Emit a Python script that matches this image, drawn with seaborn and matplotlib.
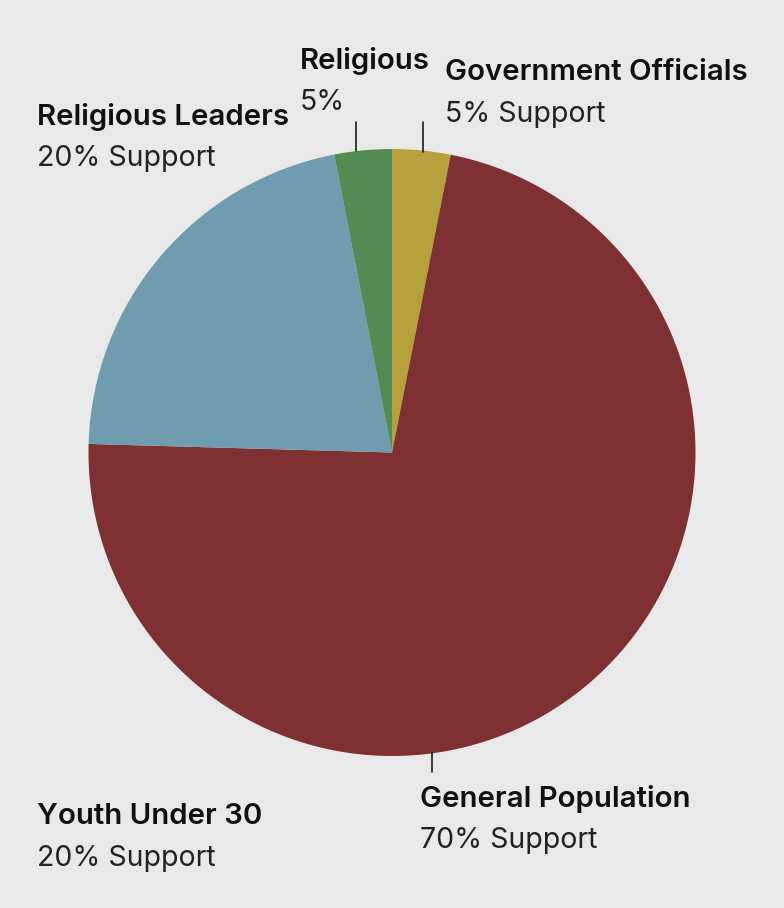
import matplotlib
matplotlib.use('Agg')
import matplotlib.pyplot as plt
import seaborn as sns

# shares (the drawn slices, not the printed labels)
grupos = ['Government Officials', 'General Population', 'Religious Leaders', 'Religious']
valores = [3.1, 72.35, 21.5, 3.05]
colores = ['#b5a03c', '#7f3033', '#6f9cae', '#528b54']

titulos = ['Religious', 'Government Officials', 'Religious Leaders', 'Youth Under 30', 'General Population']
soportes = ['5%', '5% Support', '20% Support', '20% Support', '70% Support']

sns.set_theme(style='white')
plt.rcParams['font.family'] = ['Inter', 'DejaVu Sans']

fondo = '#e9e9e9'
fig = plt.figure(figsize=(7.84, 9.08), dpi=100, facecolor=fondo)
ax = fig.add_axes([0, 0, 1, 1])
ax.set_facecolor(fondo)

ax.pie(valores, colors=sns.color_palette(colores), startangle=90, counterclock=False,
       center=(392, 908 - 452.5), radius=303.5, wedgeprops={'linewidth': 0})
ax.set_xlim(0, 784)
ax.set_ylim(0, 908)
ax.set_aspect('equal')
ax.axis('off')

# lineas guia
ax.plot([356, 356], [908 - 122, 908 - 151], color='#1c1c1c', lw=1.2)
ax.plot([423, 423], [908 - 122, 908 - 152], color='#1c1c1c', lw=1.2)
ax.plot([432, 432], [908 - 752, 908 - 772], color='#1c1c1c', lw=1.2)

# etiquetas: posicion x, y del titulo y del soporte (pixeles)
pos_x = [300, 445, 37, 37, 420]
pos_y_t = [61, 72, 117, 817, 799]
pos_y_s = [103, 114, 158, 859, 840]
for t, s, x, yt, ys in zip(titulos, soportes, pos_x, pos_y_t, pos_y_s):
    ax.text(x, 908 - yt, t, fontsize=21.2, fontweight='semibold', color='#111111', va='center', ha='left')
    ax.text(x, 908 - ys, s, fontsize=20.5, fontweight='normal', color='#222222', va='center', ha='left')

fig.savefig('out.png', dpi=100, facecolor=fondo)
